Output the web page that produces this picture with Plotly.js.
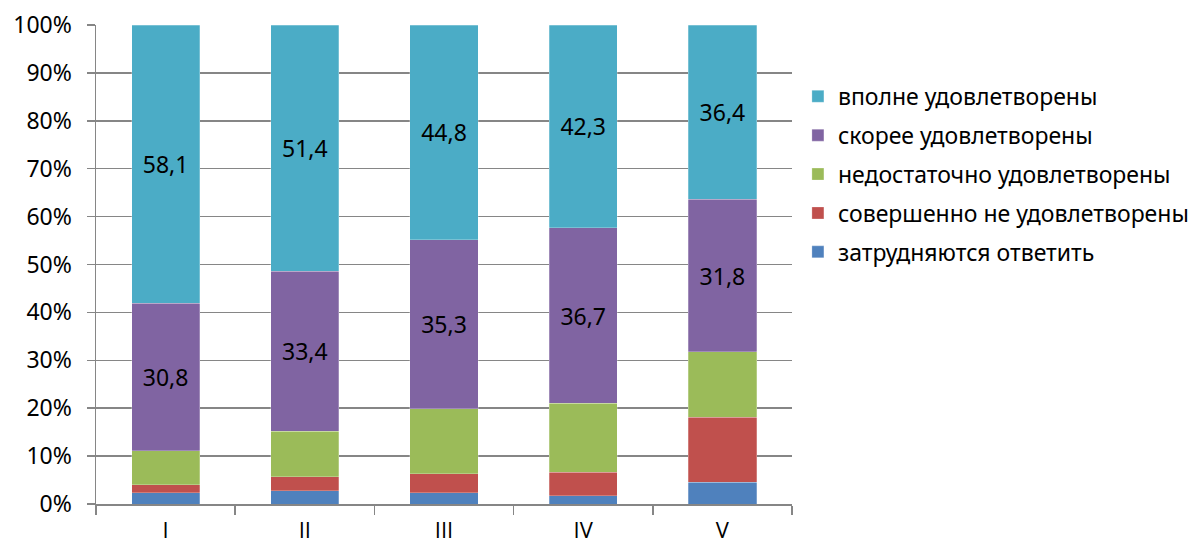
<!DOCTYPE html>
<html>
<head>
<meta charset="utf-8">
<script src="https://cdn.plot.ly/plotly-3.0.1.min.js"></script>
<style>html,body{margin:0;padding:0;background:#fff;}#chart{width:1189px;height:544px;}</style>
</head>
<body>
<div id="chart"></div>
<script>
const categories = ["I", "II", "III", "IV", "V"];
const seriesNames = ["затрудняются ответить", "совершенно не удовлетворены", "недостаточно удовлетворены", "скорее удовлетворены", "вполне удовлетворены"];
const hardToSay = [2.4, 2.8, 2.4, 1.7, 4.5];
const notSatisfied = [1.6, 2.9, 3.9, 4.9, 13.6];
const insufficient = [7.1, 9.5, 13.6, 14.4, 13.7];
const ratherSatisfied = [30.8, 33.4, 35.3, 36.7, 31.8];
const fullySatisfied = [58.1, 51.4, 44.8, 42.3, 36.4];
const yTickVals = [0, 10, 20, 30, 40, 50, 60, 70, 80, 90, 100];

const colors = ["#4F81BD", "#C0504D", "#9BBB59", "#8064A2", "#4BACC6"];
const seriesValues = [hardToSay, notSatisfied, insufficient, ratherSatisfied, fullySatisfied];
const labeled = [false, false, false, true, true];
const FONT = "Noto Sans, sans-serif";

const traces = seriesValues.map((vals, i) => ({
  type: "bar",
  name: seriesNames[i],
  legendgroup: "g" + i,
  legendrank: 1000 + (seriesValues.length - i),
  x: categories,
  y: vals,
  marker: {color: colors[i], line: {color: "rgba(255,255,255,0.5)", width: 0.5}},
  text: labeled[i] ? vals.map(v => v.toFixed(1).replace(".", ",")) : vals.map(() => ""),
  textposition: labeled[i] ? "inside" : "none",
  insidetextanchor: "middle",
  textfont: {family: FONT, size: 23, color: "#000"},
  hoverinfo: "none"
}));

const layout = {
  width: 1189, height: 544,
  margin: {l: 96, r: 397, t: 25, b: 40, autoexpand: false},
  barmode: "stack",
  bargap: 0.51,
  paper_bgcolor: "#fff", plot_bgcolor: "#fff",
  font: {family: FONT, size: 23, color: "#000"},
  xaxis: {
    type: "category",
    tickson: "boundaries",
    ticks: "outside", ticklen: 9, tickcolor: "#868686", tickwidth: 1.5,
    showline: true, linecolor: "#868686", linewidth: 1.5,
    showgrid: false,
    ticklabelstandoff: 6,
    tickfont: {family: "Open Sans, sans-serif", size: 22, color: "#000"}
  },
  yaxis: {
    range: [0, 100],
    tickvals: yTickVals,
    ticktext: yTickVals.map(v => v + "%"),
    ticks: "outside", ticklen: 8, tickcolor: "#868686", tickwidth: 1.5,
    showline: true, linecolor: "#868686", linewidth: 1.5,
    showgrid: true, gridcolor: "#868686", gridwidth: 1.5,
    zeroline: false,
    ticklabelstandoff: 10,
    tickfont: {family: FONT, size: 23, color: "#000"}
  },
  legend: {
    x: 1.0085, xanchor: "left", y: 0.896, yanchor: "top",
    traceorder: "grouped",
    tracegroupgap: 6,
    font: {family: FONT, size: 23, color: "#000"},
    bgcolor: "rgba(0,0,0,0)"
  },
  showlegend: true
};

Plotly.newPlot("chart", traces, layout, {displayModeBar: false, staticPlot: true});
</script>
</body>
</html>
